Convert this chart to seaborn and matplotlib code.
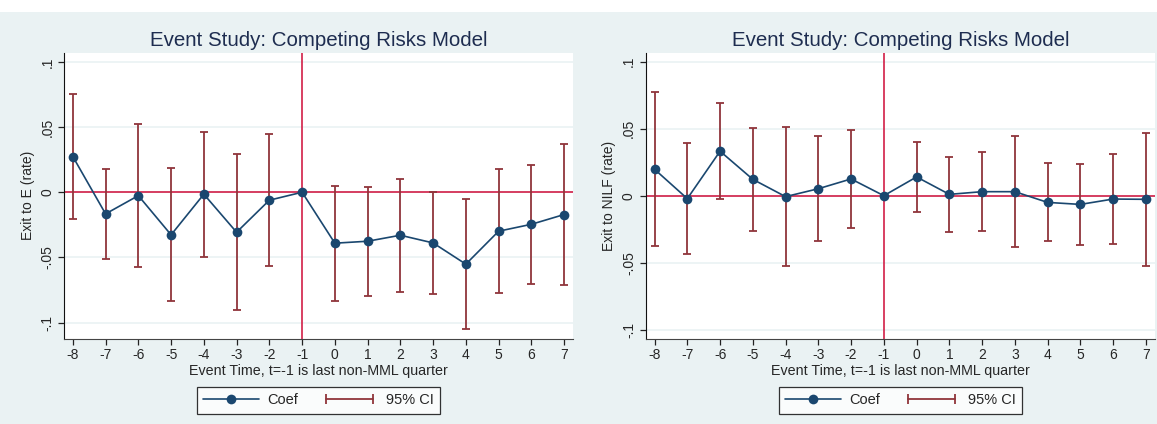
import numpy as np
import pandas as pd
import seaborn as sns
import matplotlib.pyplot as plt
from matplotlib.lines import Line2D
from matplotlib.legend_handler import HandlerLine2D
from matplotlib.patches import Rectangle

# event time
periodos = [-8, -7, -6, -5, -4, -3, -2, -1, 0, 1, 2, 3, 4, 5, 6, 7]

# painel 1: saida para emprego
coef_e = [0.0274, -0.0166, -0.0026, -0.0327, -0.0015, -0.0307, -0.0061, 0.0,
          -0.0391, -0.0376, -0.0330, -0.0389, -0.0552, -0.0299, -0.0246, -0.0171]
sup_e = [0.0752, 0.0176, 0.0524, 0.0184, 0.0465, 0.0294, 0.0448, np.nan,
         0.0049, 0.0043, 0.0102, 0.0005, -0.0049, 0.0182, 0.0210, 0.0371]
inf_e = [-0.0202, -0.0509, -0.0573, -0.0834, -0.0494, -0.0905, -0.0565, np.nan,
         -0.0831, -0.0795, -0.0762, -0.0783, -0.1051, -0.0777, -0.0701, -0.0714]

# painel 2: saida para NILF
coef_n = [0.0197, -0.0022, 0.0332, 0.0122, -0.0007, 0.0052, 0.0125, 0.0,
          0.0140, 0.0010, 0.0030, 0.0030, -0.0050, -0.0065, -0.0025, -0.0027]
sup_n = [0.0771, 0.0394, 0.0688, 0.0506, 0.0509, 0.0444, 0.0489, np.nan,
         0.0404, 0.0287, 0.0329, 0.0444, 0.0244, 0.0234, 0.0309, 0.0466]
inf_n = [-0.0377, -0.0436, -0.0025, -0.0264, -0.0521, -0.0339, -0.0242, np.nan,
         -0.0122, -0.0269, -0.0264, -0.0382, -0.0339, -0.0367, -0.0359, -0.0524]

titulo = "Event Study: Competing Risks Model"
xlabel = "Event Time, t=-1 is last non-MML quarter"
ylabels = ["Exit to E (rate)", "Exit to NILF (rate)"]
yticks = [-0.1, -0.05, 0, 0.05, 0.1]
yticklabels = ["-.1", "-.05", "0", ".05", ".1"]

azul = "#1a476f"
vinho = "#90353b"
vermelho = "#d21f47"
fundo = "#eaf2f3"

sns.set_style("white")
plt.rcParams["font.family"] = ["Liberation Sans", "DejaVu Sans"]

fig = plt.figure(figsize=(11.57, 4.24), dpi=100, facecolor=fundo)
fig.patches.append(Rectangle((0, 1 - 12 / 424), 1, 12 / 424, transform=fig.transFigure,
                             facecolor="white", edgecolor="none", zorder=0))

eixos = [fig.add_axes([0.0553, 0.2012, 0.4402, 0.6745]),
         fig.add_axes([0.5581, 0.2012, 0.4402, 0.6745])]
limites = [(-0.1124, 0.1071), (-0.1067, 0.1067)]
dados = [(coef_e, sup_e, inf_e), (coef_n, sup_n, inf_n)]

for ax, (coef, sup, inf), ylab, lim in zip(eixos, dados, ylabels, limites):
    tabela = pd.DataFrame({"t": periodos, "coef": coef, "sup": sup, "inf": inf})
    ax.set_facecolor("white")
    for v in yticks:
        ax.axhline(v, color=fundo, lw=1.2, zorder=0)
    ax.axhline(0, color=vermelho, lw=1.2, zorder=1)
    ax.axvline(-1, color=vermelho, lw=1.2, zorder=1)

    ic = tabela.dropna()
    ax.errorbar(ic["t"], (ic["sup"] + ic["inf"]) / 2, yerr=(ic["sup"] - ic["inf"]) / 2,
                fmt="none", ecolor=vinho, elinewidth=1.3, capsize=3, capthick=1.3, zorder=2)
    sns.lineplot(data=tabela, x="t", y="coef", color=azul, marker="o", markersize=7,
                 markeredgewidth=0, lw=1.2, ax=ax, zorder=3)

    ax.set_xlim(-8.27, 7.28)
    ax.set_ylim(*lim)
    ax.set_xticks(periodos)
    ax.set_xticklabels([str(p) for p in periodos], fontsize=10)
    ax.set_yticks(yticks)
    ax.set_yticklabels(yticklabels, fontsize=10, rotation=90, va="center")
    ax.tick_params(axis="both", direction="out", length=4, width=0.9, color="#222222",
                   pad=3, left=True, bottom=True)
    ax.set_xlabel(xlabel, fontsize=10.3, labelpad=1.5)
    ax.set_ylabel(ylab, fontsize=10, labelpad=4)
    ax.set_title(titulo, fontsize=14.8, color="#1e2d50", pad=5)
    for lado in ["top", "right"]:
        ax.spines[lado].set_visible(False)
    ax.spines["left"].set_color("#111111")
    ax.spines["bottom"].set_color("#444444")

    h_coef = Line2D([], [], color=azul, marker="o", markersize=7, markeredgewidth=0, lw=1.2)
    h_ic = Line2D([], [], color=vinho, marker="|", markersize=7, markeredgewidth=1.3, lw=1.3)
    leg = ax.legend([h_coef, h_ic], ["Coef", "95% CI"], loc="center",
                    bbox_to_anchor=(0.5, -0.215), ncol=2, fontsize=10.5, frameon=True,
                    fancybox=False, edgecolor="black", handlelength=3.8, handletextpad=0.6,
                    columnspacing=1.6, borderpad=0.45,
                    handler_map={h_ic: HandlerLine2D(numpoints=2)})
    leg.get_frame().set_linewidth(0.9)

fig.savefig("out.png", dpi=100, facecolor=fundo)
